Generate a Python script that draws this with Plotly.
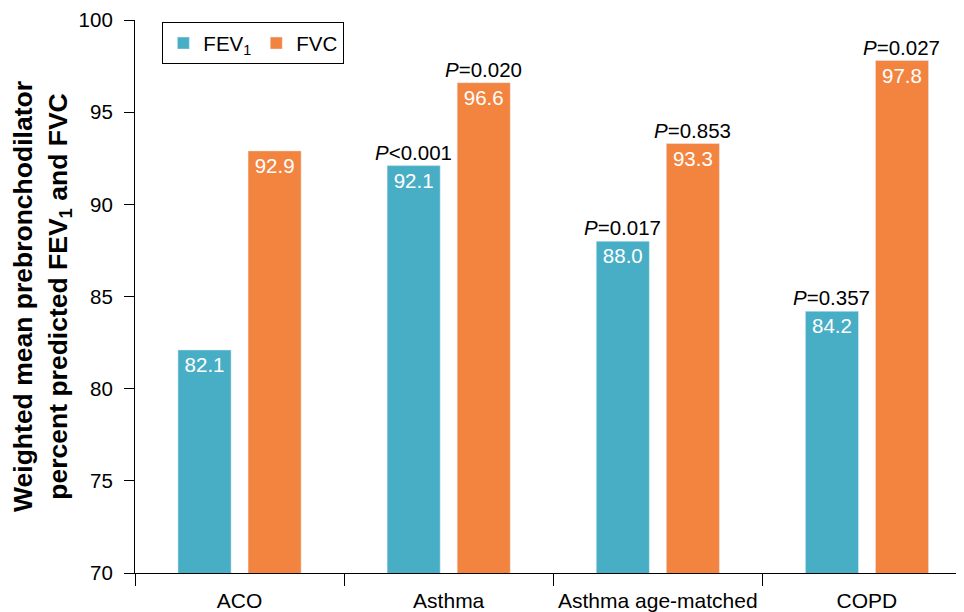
import plotly.graph_objects as go

categories = ["ACO", "Asthma", "Asthma age-matched", "COPD"]
fev1 = [82.1, 92.1, 88.0, 84.2]
fvc = [92.9, 96.6, 93.3, 97.8]
fev1_p = ["", "<i>P</i><0.001", "<i>P</i>=0.017", "<i>P</i>=0.357"]
fvc_p = ["", "<i>P</i>=0.020", "<i>P</i>=0.853", "<i>P</i>=0.027"]
y_ticks = [70, 75, 80, 85, 90, 95, 100]

TEAL = "#48AEC5"
ORANGE = "#F3843F"
FONT = "Liberation Sans, Arial, sans-serif"
FS = 20.5

bargap = 0.33
bargroupgap = 0.242
slot = (1 - bargap) / 2

fig = go.Figure()
fig.add_trace(go.Bar(
    x=categories, y=fev1, name="FEV<sub>1</sub>", marker_color=TEAL,
    text=[f"{v:.1f}" for v in fev1], textposition="inside",
    insidetextanchor="end", textfont=dict(color="white", size=FS, family=FONT),
    cliponaxis=False,
))
fig.add_trace(go.Bar(
    x=categories, y=fvc, name="FVC", marker_color=ORANGE,
    text=[f"{v:.1f}" for v in fvc], textposition="inside",
    insidetextanchor="end", textfont=dict(color="white", size=FS, family=FONT),
    cliponaxis=False,
))

annotations = []
for vals, labels, sign in [(fev1, fev1_p, -1), (fvc, fvc_p, 1)]:
    for j, (v, lab) in enumerate(zip(vals, labels)):
        if not lab:
            continue
        annotations.append(dict(
            x=j + sign * slot / 2, y=v, xref="x", yref="y", text=lab,
            showarrow=False, yanchor="bottom", xanchor="center", yshift=0,
            font=dict(size=FS, color="black", family=FONT),
        ))

# page body has an 8px margin; figure sized to fit the 964x612 window
fig.update_layout(
    width=956, height=604,
    margin=dict(l=127, r=0, t=12, b=39),
    paper_bgcolor="white", plot_bgcolor="white",
    barmode="group", bargap=bargap, bargroupgap=bargroupgap,
    font=dict(family=FONT, size=FS, color="black"),
    showlegend=True,
    legend=dict(
        orientation="h", x=0.033, y=0.996, xanchor="left", yanchor="top",
        bordercolor="black", borderwidth=1, bgcolor="white",
        font=dict(size=FS, family=FONT), itemwidth=30,
    ),
    annotations=annotations,
    xaxis=dict(
        type="category", range=[-0.5, 3.464], showline=True, linecolor="black",
        linewidth=1.2, ticks="outside", tickson="boundaries", ticklen=12,
        tickcolor="black", tickfont=dict(size=21, family=FONT), showgrid=False,
        zeroline=False, ticklabelstandoff=9,
    ),
    yaxis=dict(
        range=[70, 100], tickvals=y_ticks, showline=True, linecolor="black",
        linewidth=1.2, ticks="outside", ticklen=10, tickcolor="black",
        tickfont=dict(size=FS, family=FONT), showgrid=False, zeroline=False,
        ticklabelstandoff=7,
        title=dict(
            text="<b>Weighted mean prebronchodilator<br>percent predicted FEV<sub>1</sub> and FVC</b>",
            font=dict(size=26.5, family=FONT), standoff=3,
        ),
    ),
)

fig.write_html("out.html")
